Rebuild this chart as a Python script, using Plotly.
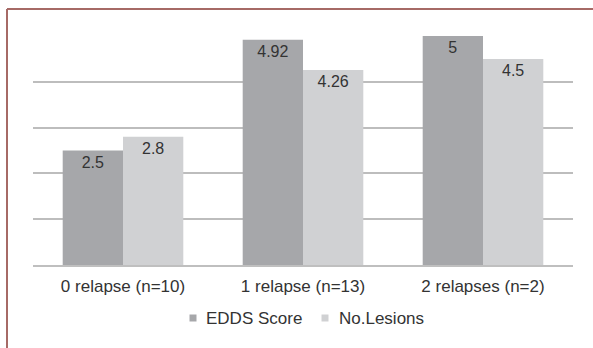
import plotly.graph_objects as go

categories = ["0 relapse (n=10)", "1 relapse (n=13)", "2 relapses (n=2)"]
edds_score = [2.5, 4.92, 5]
no_lesions = [2.8, 4.26, 4.5]
series_names = ["EDDS Score", "No.Lesions"]

dark_grey = "#a6a7aa"
light_grey = "#d0d1d3"
text_col = "#333333"
font_family = "Liberation Sans, Arial, sans-serif"

W, H = 593, 348
m_l, m_r, m_t, m_b = 33, 20, 36, 83
pw, ph = W - m_l - m_r, H - m_t - m_b


def px_x(x):
    return (x - m_l) / pw


def px_y(y):
    return (H - m_b - y) / ph


fig = go.Figure()
for name, vals, col in [(series_names[0], edds_score, dark_grey),
                        (series_names[1], no_lesions, light_grey)]:
    fig.add_trace(go.Bar(
        x=categories, y=vals, name=name, marker_color=col,
        marker_line_width=0, showlegend=False,
        text=[str(v) for v in vals], textposition="inside",
        insidetextanchor="end", textangle=0,
        textfont=dict(size=16, color=text_col, family=font_family),
        cliponaxis=False,
    ))

# legend drawn as small squares with labels, centred under the plot
shapes = []
annotations = []
legend_y = 318
for name, col, sq_x, txt_x in [(series_names[0], dark_grey, 193, 204),
                               (series_names[1], light_grey, 325, 337)]:
    shapes.append(dict(type="rect", xref="paper", yref="paper",
                       x0=px_x(sq_x - 3.5), x1=px_x(sq_x + 3.5),
                       y0=px_y(legend_y + 3.5), y1=px_y(legend_y - 3.5),
                       fillcolor=col, line_width=0))
    annotations.append(dict(text=name, xref="paper", yref="paper",
                            x=px_x(txt_x), y=px_y(legend_y),
                            xanchor="left", yanchor="middle", showarrow=False,
                            font=dict(size=17, color=text_col, family=font_family)))

# chart frame: top and left rules
frame_x = px_x(7)
frame_top = px_y(9)
shapes += [
    dict(type="line", xref="paper", yref="paper",
         x0=frame_x, x1=px_x(W), y0=frame_top, y1=frame_top,
         line=dict(color="#a66a66", width=2)),
    dict(type="line", xref="paper", yref="paper",
         x0=frame_x, x1=frame_x, y0=frame_top, y1=px_y(H),
         line=dict(color="#a66a66", width=2)),
]

fig.update_layout(
    width=W, height=H,
    margin=dict(l=m_l, r=m_r, t=m_t, b=m_b),
    paper_bgcolor="white", plot_bgcolor="white",
    barmode="group", bargap=0.33, bargroupgap=0,
    font=dict(family=font_family, size=16, color=text_col),
    showlegend=False,
    xaxis=dict(showline=True, linecolor="#bfbfbf", linewidth=1.5,
               ticks="", tickfont=dict(size=17, color=text_col),
               ticklabelstandoff=5, showgrid=False),
    yaxis=dict(range=[0, 5], dtick=1, showticklabels=False,
               showgrid=True, gridcolor="#bdbdbd", gridwidth=1.5,
               zeroline=False, ticks=""),
    shapes=shapes,
    annotations=annotations,
)

fig.write_html("out.html")
